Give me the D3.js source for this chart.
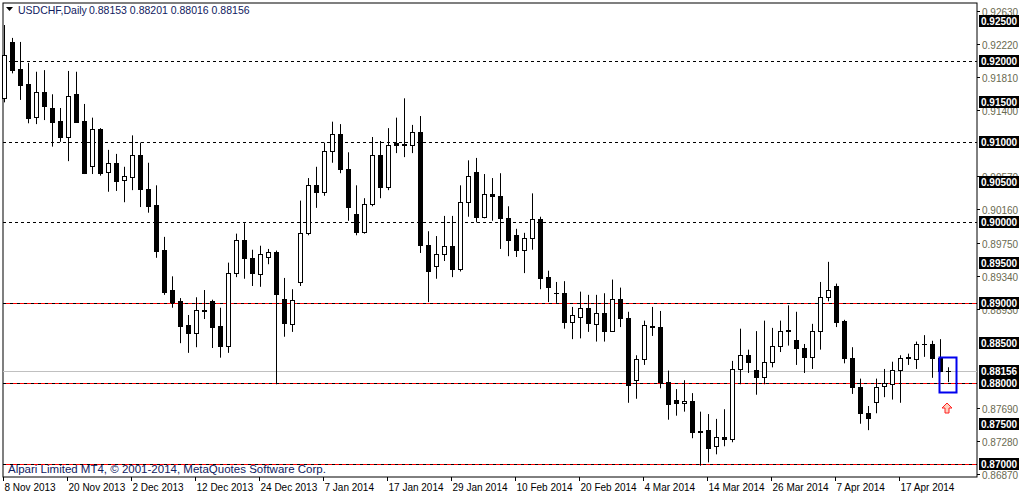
<!DOCTYPE html>
<html><head><meta charset="utf-8">
<script src="https://cdn.jsdelivr.net/npm/d3@7"></script>
<style>body{margin:0;background:#fff}svg{display:block}text{font-family:"Liberation Sans",Arial,sans-serif}</style>
</head><body><svg id="c" width="1020" height="495"></svg>
<script>
const opens =[9154,9224,9190,9172,9131,9162,9142,9126,9106,9159,9126,9070,9116,9063,9074,9053,9056,9084,9041,9022,8966,8916,8902,8873,8863,8891,8902,8871,8847,8937,8978,8956,8936,8957,8963,8905,8874,8926,8987,9046,9038,9089,9110,9066,9010,8988,9023,9084,9044,9099,9097,9096,9112,8972,8946,8961,8971,8942,9025,9063,9007,9035,9033,9006,8984,8966,8981,9004,8932,8912,8912,8876,8883,8894,8874,8888,8865,8905,8881,8804,8830,8871,8870,8802,8780,8776,8778,8741,8742,8722,8734,8731,8818,8835,8817,8808,8827,8847,8866,8854,8844,8833,8865,8907,8921,8878,8832,8796,8763,8777,8797,8799,8817,8833,8830,8849,8849,8832,8815.3];
const highs =[9245,9229,9224,9198,9187,9189,9159,9142,9188,9187,9147,9130,9117,9090,9085,9069,9108,9099,9074,9046,8982,8933,8906,8885,8907,8916,8904,8894,8950,8986,8999,8966,8971,8967,8965,8931,8917,9027,9055,9069,9099,9125,9122,9087,9046,9030,9106,9101,9117,9130,9154,9121,9132,8989,8983,9008,9008,9046,9077,9080,9060,9055,9061,9020,8992,8987,9036,9007,8940,8926,8927,8895,8914,8910,8910,8912,8929,8919,8889,8835,8878,8895,8890,8816,8793,8804,8788,8765,8762,8756,8768,8828,8868,8842,8865,8878,8869,8878,8897,8889,8849,8874,8926,8951,8924,8879,8845,8806,8772,8806,8818,8827,8835,8837,8852,8860,8853,8855,8820.1];
const lows  =[9149,9185,9152,9123,9122,9127,9094,9100,9076,9125,9060,9060,9058,9038,9039,9025,9040,9019,9012,8956,8910,8894,8850,8838,8845,8880,8844,8832,8838,8932,8930,8921,8920,8948,8799,8858,8864,8921,8984,9018,9033,9074,9061,9002,8984,8986,9020,9030,9040,9086,9081,9086,8962,8901,8930,8952,8932,8939,9007,9000,9005,9002,8967,8958,8957,8937,8966,8917,8901,8900,8868,8855,8856,8864,8852,8852,8864,8870,8776,8781,8823,8859,8794,8755,8760,8765,8732,8698,8702,8712,8722,8727,8799,8813,8786,8799,8820,8839,8847,8823,8813,8818,8842,8902,8870,8825,8787,8750,8742,8763,8783,8780,8776,8823,8818,8833,8807,8814,8801.6];
const closes=[9208,9189,9171,9130,9162,9144,9125,9106,9157,9125,9061,9116,9061,9074,9051,9058,9084,9041,9020,8964,8913,8901,8871,8863,8891,8890,8870,8847,8937,8978,8956,8937,8961,8963,8911,8875,8904,8987,9046,9038,9089,9110,9066,9019,8988,9023,9084,9044,9096,9096,9096,9112,8972,8940,8961,8971,8942,9025,9058,9007,9035,9033,9006,8978,8966,8981,9004,8931,8920,8912,8876,8885,8894,8875,8888,8865,8905,8881,8798,8830,8873,8870,8802,8775,8776,8778,8740,8740,8720,8734,8731,8818,8835,8827,8808,8827,8847,8865,8865,8844,8833,8865,8907,8916,8876,8832,8796,8763,8757,8796,8801,8817,8832,8832,8849,8849,8832,8815,8815.6];
const dateLabels=["8 Nov 2013","20 Nov 2013","2 Dec 2013","12 Dec 2013","24 Dec 2013","7 Jan 2014","17 Jan 2014","29 Jan 2014","10 Feb 2014","20 Feb 2014","4 Mar 2014","14 Mar 2014","26 Mar 2014","7 Apr 2014","17 Apr 2014"];
const priceTicks=[0.92630,0.92220,0.91810,0.91400,0.90570,0.90160,0.89750,0.89340,0.88930,0.87690,0.87280,0.86870];
const levelBoxes=[0.925,0.92,0.915,0.91,0.905,0.90,0.895,0.89,0.885,0.88,0.875,0.87];
const blackLines=[0.92,0.91,0.90];
const redLines=[0.89,0.88,0.87];
const current=0.88156;

const P=v=>v/10000;
const svg=d3.select("#c");
const L=3,R=977,T=3,B=477;
const y=d3.scaleLinear().domain([0.8700,0.9250]).range([464,21]);
const x=d3.scaleLinear().domain([0,1]).range([4,12]);
const g=svg.append("g");
g.append("rect").attr("x",L).attr("y",T).attr("width",R-L).attr("height",B-T).attr("fill","none").attr("stroke","#000");
blackLines.forEach(v=>g.append("line").attr("x1",L).attr("x2",R).attr("y1",Math.round(y(v))+.5).attr("y2",Math.round(y(v))+.5).attr("stroke","#000").attr("stroke-dasharray","3,3"));
redLines.forEach(v=>{const yy=Math.round(y(v))+.5;
 g.append("line").attr("x1",L).attr("x2",R).attr("y1",yy).attr("y2",yy).attr("stroke","#ff0000");
 g.append("line").attr("x1",L).attr("x2",R).attr("y1",yy).attr("y2",yy).attr("stroke","#000").attr("stroke-dasharray","3,4");});
g.append("line").attr("x1",L).attr("x2",R).attr("y1",Math.round(y(current))+.5).attr("y2",Math.round(y(current))+.5).attr("stroke","#c0c0c0");
const data=opens.map((o,i)=>({i,o:P(o),h:P(highs[i]),l:P(lows[i]),c:P(closes[i])}));
const cg=g.append("g");
data.forEach(d=>{
 const cx=Math.round(x(d.i))+.5;
 cg.append("line").attr("x1",cx).attr("x2",cx).attr("y1",y(d.h)).attr("y2",y(d.l)).attr("stroke","#000");
 const top=Math.round(y(Math.max(d.o,d.c))), bot=Math.round(y(Math.min(d.o,d.c)));
 if(bot-top<1){cg.append("line").attr("x1",cx-2.5).attr("x2",cx+2.5).attr("y1",top+.5).attr("y2",top+.5).attr("stroke","#000");}
 else cg.append("rect").attr("x",cx-2).attr("y",top+.5).attr("width",4).attr("height",bot-top)
   .attr("fill",d.c>=d.o?"#fff":"#000").attr("stroke","#000");
});
const last=data[data.length-1];
g.append("rect").attr("x",x(last.i)-8.5).attr("y",357.5).attr("width",17).attr("height",35).attr("fill","none").attr("stroke","#0000ee").attr("stroke-width",2);
const ax=Math.round(x(last.i))-1;
g.append("path").attr("d",`M${ax},403 l-5,5 h3 v5 h4 v-5 h3 z`).attr("fill","#ffd0c0").attr("stroke","#ff2020");
priceTicks.forEach(v=>{const yy=Math.round(y(v))+.5;
 g.append("line").attr("x1",R).attr("x2",R+3).attr("y1",yy).attr("y2",yy).attr("stroke","#000");
 g.append("text").attr("x",982).attr("y",yy+4).attr("font-size",10).attr("fill","#6a6a50").text(v.toFixed(5));});
levelBoxes.concat([current]).forEach(v=>{const yy=Math.round(y(v));
 g.append("rect").attr("x",979).attr("y",yy-6).attr("width",40).attr("height",12).attr("fill","#000");
 g.append("text").attr("x",981).attr("y",yy+4).attr("font-size",10).attr("font-weight","bold").attr("fill","#fff").text(v.toFixed(5));});
dateLabels.forEach((s,k)=>{const xx=Math.round(x(k*8))-.5;
 g.append("line").attr("x1",xx).attr("x2",xx).attr("y1",B).attr("y2",B+4).attr("stroke","#000");
 g.append("text").attr("x",xx+1).attr("y",491).attr("font-size",10).attr("fill","#000").text(s);});
g.append("path").attr("d","M6,7 h7 l-3.5,4 z").attr("fill","#000");
g.append("text").attr("x",18).attr("y",14).attr("font-size",10.5).attr("fill","#102060").text("USDCHF,Daily");
g.append("text").attr("x",89).attr("y",14).attr("font-size",10.5).attr("fill","#102060").text("0.88153 0.88201 0.88016 0.88156");
g.append("text").attr("x",8).attr("y",473).attr("font-size",11.5).attr("fill","#102060").text("Alpari Limited MT4, © 2001-2014, MetaQuotes Software Corp.");
</script></body></html>
